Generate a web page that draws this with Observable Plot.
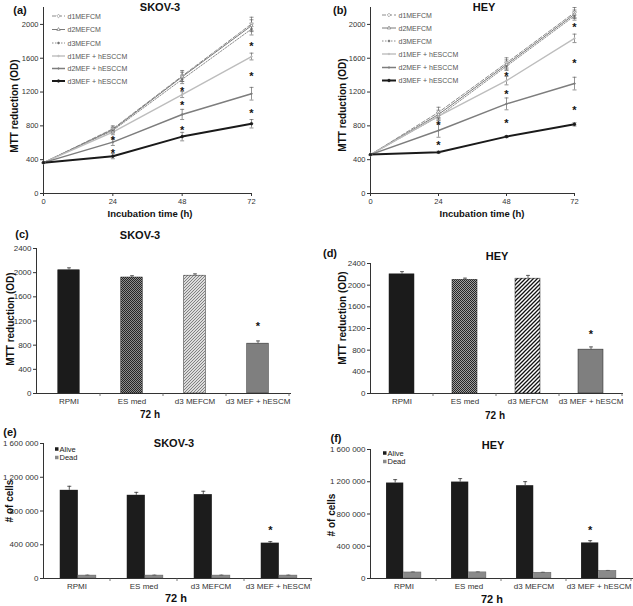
<!DOCTYPE html>
<html><head><meta charset="utf-8">
<script src="https://cdn.jsdelivr.net/npm/d3@7"></script>
<script src="https://cdn.jsdelivr.net/npm/@observablehq/plot@0.6"></script>
<style>
body{margin:0;background:#fff;}
#wrap{position:relative;width:633px;height:606px;overflow:hidden;background:#fff;}
.panel{position:absolute;}
.panel svg{display:block;overflow:visible;}
</style></head><body><div id="wrap"></div>
<script>
// ---------------- DATA ----------------
const times = [0, 24, 48, 72];
const seriesNames = ["d1MEFCM", "d2MEFCM", "d3MEFCM", "d1MEF + hESCCM", "d2MEF + hESCCM", "d3MEF + hESCCM"];
const lineYTicks = [0, 400, 800, 1200, 1600, 2000];

const skovMTT = [
  [365, 765, 1390, 2005],
  [365, 755, 1380, 1985],
  [365, 745, 1350, 1945],
  [365, 725, 1170, 1620],
  [365, 608, 935, 1180],
  [365, 441, 673, 825]
];
const skovErr = [
  [10, 35, 65, 80],
  [10, 30, 55, 70],
  [10, 30, 50, 70],
  [10, 30, 35, 40],
  [10, 40, 60, 75],
  [10, 30, 50, 50]
];
const skovStarT = [24, 24, 48, 48, 48, 72, 72, 72];
const skovStarV = [665, 508, 1248, 1075, 783, 1780, 1414, 988];

const heyMTT = [
  [460, 960, 1545, 2140],
  [460, 935, 1525, 2120],
  [460, 910, 1505, 2100],
  [460, 915, 1335, 1835],
  [460, 745, 1060, 1300],
  [460, 488, 673, 818]
];
const heyErr = [
  [10, 60, 60, 60],
  [10, 50, 55, 50],
  [10, 50, 50, 50],
  [10, 45, 50, 50],
  [10, 80, 70, 75],
  [10, 12, 12, 20]
];
const heyStarT = [24, 24, 48, 48, 48, 72, 72, 72];
const heyStarV = [842, 606, 1425, 1208, 858, 1996, 1571, 1019];

const conditions = ["RPMI", "ES med", "d3 MEFCM", "d3 MEF + hESCM"];
const mttYTicks = [0, 400, 800, 1200, 1600, 2000, 2400];
const skovMTT72 = [2040, 1920, 1950, 825];
const skovMTT72Err = [40, 30, 30, 45];
const skovMTT72Star = [null, null, null, 1160];
const heyMTT72 = [2200, 2100, 2120, 810];
const heyMTT72Err = [50, 30, 60, 50];
const heyMTT72Star = [null, null, null, 1150];

const cellStatus = ["Alive", "Dead"];
const cellYTicks = [0, 400000, 800000, 1200000, 1600000];
const skovAlive = [1045000, 986000, 994000, 419000];
const skovAliveErr = [48000, 35000, 40000, 18000];
const skovDead = [35000, 35000, 35000, 35000];
const skovDeadErr = [5000, 5000, 5000, 5000];
const skovCellStar = [null, null, null, 610000];
const heyAlive = [1184000, 1196000, 1151000, 441000];
const heyAliveErr = [42000, 43000, 50000, 28000];
const heyDead = [75000, 76000, 72000, 95000];
const heyDeadErr = [6000, 6000, 5000, 5000];
const heyCellStar = [null, null, null, 635000];

// ---------------- STYLES ----------------
const FONT = '"Liberation Sans", Arial, Helvetica, sans-serif';
const lineStyles = [
  {stroke: "#8c8c8c", width: 1, dash: "4,2", symbol: "diamond2", fill: "white", r: 1.6},
  {stroke: "#7a7a7a", width: 1, dash: null, symbol: "triangle2", fill: "white", r: 1.6},
  {stroke: "#8c8c8c", width: 1, dash: "1.5,1.5", symbol: "circle", fill: "#555", r: 1},
  {stroke: "#bdbdbd", width: 1.4, dash: null, symbol: "circle", fill: "#bdbdbd", r: 0.8},
  {stroke: "#7d7d7d", width: 1.5, dash: null, symbol: "circle", fill: "#7d7d7d", r: 0.8},
  {stroke: "#1a1a1a", width: 2, dash: null, symbol: "circle", fill: "#1a1a1a", r: 1.3}
];
const d3Symbols = {diamond2: d3.symbolDiamond2, triangle2: d3.symbolTriangle2, circle: d3.symbolCircle};
const capSymbol = {draw(ctx, size) { const w = Math.sqrt(size / Math.PI); ctx.moveTo(-w, 0); ctx.lineTo(w, 0); }};
const plainFmt = d3.format("d");

const wrap = document.getElementById("wrap");
function place(node, left, top) {
  const div = document.createElement("div");
  div.className = "panel";
  div.style.left = left + "px";
  div.style.top = top + "px";
  div.appendChild(node);
  wrap.appendChild(div);
}
function addText(svg, x, y, txt, o = {}) {
  d3.select(svg).append("text")
    .attr("x", x).attr("y", y)
    .attr("text-anchor", o.anchor || "middle")
    .attr("dominant-baseline", "central")
    .attr("font-size", o.size || 10)
    .attr("font-weight", o.weight || "bold")
    .attr("fill", o.fill || "#111")
    .attr("font-family", FONT)
    .attr("transform", o.rotate ? `rotate(-90 ${x} ${y})` : null)
    .text(txt);
}

// ---------------- LINE PANELS ----------------
function linePanel(c) {
  const data = [];
  c.vals.forEach((arr, si) => arr.forEach((v, ti) => data.push({s: si, t: times[ti], v, e: c.errs[si][ti]})));
  const errData = data.filter(d => d.t > 0);
  const stars = c.starT.map((t, i) => ({t, v: c.starV[i]}));
  const marks = [];
  lineStyles.forEach((st, si) => {
    const o = {x: "t", y: "v", stroke: st.stroke, strokeWidth: st.width};
    if (st.dash) o.strokeDasharray = st.dash;
    marks.push(Plot.line(data.filter(d => d.s === si), o));
  });
  marks.push(Plot.ruleX(errData, {x: "t", y1: d => d.v - d.e, y2: d => d.v + d.e, stroke: "#666", strokeWidth: 0.7}));
  marks.push(Plot.dot(errData, {x: "t", y: d => d.v + d.e, symbol: capSymbol, r: 2, stroke: "#666", strokeWidth: 0.7}));
  marks.push(Plot.dot(errData, {x: "t", y: d => d.v - d.e, symbol: capSymbol, r: 2, stroke: "#666", strokeWidth: 0.7}));
  lineStyles.forEach((st, si) => {
    marks.push(Plot.dot(data.filter(d => d.s === si), {x: "t", y: "v", symbol: st.symbol, r: st.r, stroke: st.stroke, fill: st.fill, strokeWidth: 0.7}));
  });
  marks.push(Plot.text(stars, {x: "t", y: "v", text: () => "*", fontSize: 11, fontWeight: "bold", fill: "#111", dy: 3}));
  const svg = Plot.plot({
    width: c.w, height: c.h,
    marginLeft: c.ml, marginRight: c.mr, marginTop: c.mt, marginBottom: c.mb,
    x: {domain: [0, 72], ticks: times, tickSize: 3, tickPadding: 2, line: true, label: null},
    y: {domain: [0, 2200], ticks: lineYTicks, tickFormat: plainFmt, tickSize: 3, tickPadding: 2, line: true, label: null},
    style: {fontFamily: FONT, fontSize: "7.5px", color: "#333", background: "transparent", overflow: "visible"},
    marks
  });
  addText(svg, c.letterX, c.letterY, c.letter, {size: 11});
  addText(svg, c.titleX, c.titleY, c.title, {size: 11});
  addText(svg, c.ylabX, c.ylabY, "MTT reduction (OD)", {size: 10, rotate: true});
  addText(svg, c.xlabX, c.xlabY, "Incubation time (h)", {size: 9.5});
  const g = d3.select(svg).append("g");
  lineStyles.forEach((st, si) => {
    const y = c.legRows[si];
    g.append("line").attr("x1", c.legX0).attr("x2", c.legX1).attr("y1", y).attr("y2", y)
      .attr("stroke", st.stroke).attr("stroke-width", st.width).attr("stroke-dasharray", st.dash);
    g.append("path").attr("d", d3.symbol(d3Symbols[st.symbol], Math.PI * st.r * st.r)())
      .attr("transform", `translate(${(c.legX0 + c.legX1) / 2},${y})`)
      .attr("stroke", st.stroke).attr("fill", st.fill).attr("stroke-width", 0.7);
    addText(svg, c.legX1 + 2.5, y, seriesNames[si], {size: 7, weight: "normal", anchor: "start", fill: "#555"});
  });
  place(svg, c.left, c.top);
}

linePanel({left: 0, top: 0, w: 316, h: 222, ml: 43, mr: 65, mt: 7, mb: 29,
  vals: skovMTT, errs: skovErr, starT: skovStarT, starV: skovStarV,
  letter: "(a)", letterX: 20, letterY: 10, title: "SKOV-3", titleX: 160, titleY: 7,
  ylabX: 14, ylabY: 106, xlabX: 150, xlabY: 213, legX0: 52, legX1: 65, legRows: [16, 29.5, 43, 56, 68.5, 81]});
linePanel({left: 320, top: 0, w: 313, h: 222, ml: 50, mr: 59, mt: 7, mb: 29,
  vals: heyMTT, errs: heyErr, starT: heyStarT, starV: heyStarV,
  letter: "(b)", letterX: 20, letterY: 10, title: "HEY", titleX: 164, titleY: 7,
  ylabX: 22, ylabY: 105, xlabX: 162, xlabY: 213, legX0: 62, legX1: 76, legRows: [15, 28, 41, 54, 67.5, 80.5]});

// ---------------- PATTERNS ----------------
function addPatterns(svg, prefix, dark) {
  const defs = d3.select(svg).insert("defs", ":first-child");
  const p1 = defs.append("pattern").attr("id", prefix + "-es").attr("patternUnits", "userSpaceOnUse").attr("width", 2).attr("height", 2);
  p1.append("rect").attr("width", 2).attr("height", 2).attr("fill", dark ? "#a0a0a0" : "#8e8e8e");
  p1.append("rect").attr("width", 1).attr("height", 1).attr("fill", "#252525");
  p1.append("rect").attr("x", 1).attr("y", 1).attr("width", 1).attr("height", 1).attr("fill", "#252525");
  if (dark) {
    const p2 = defs.append("pattern").attr("id", prefix + "-d3").attr("patternUnits", "userSpaceOnUse").attr("width", 4).attr("height", 4);
    p2.append("rect").attr("width", 4).attr("height", 4).attr("fill", "#fff");
    p2.append("path").attr("d", "M-1,1 l2,-2 M0,4 l4,-4 M3,5 l2,-2").attr("stroke", "#111").attr("stroke-width", 1.3);
  } else {
    const p2 = defs.append("pattern").attr("id", prefix + "-d3").attr("patternUnits", "userSpaceOnUse").attr("width", 3).attr("height", 3);
    p2.append("rect").attr("width", 3).attr("height", 3).attr("fill", "#dcdcdc");
    p2.append("path").attr("d", "M-1,1 l2,-2 M0,3 l3,-3 M2,4 l2,-2").attr("stroke", "#777").attr("stroke-width", 0.9);
  }
}
function boundaryTicks(svg, cats, y0) {
  const xs = svg.scale("x");
  const step = xs.apply(cats[1]) - xs.apply(cats[0]);
  const g = d3.select(svg).append("g");
  const xsPos = cats.map(c => xs.apply(c)).slice(1);
  xsPos.push(xs.apply(cats[cats.length - 1]) + step);
  xsPos.forEach(x => g.append("line").attr("x1", x).attr("x2", x).attr("y1", y0).attr("y2", y0 + 3).attr("stroke", "#555").attr("stroke-width", 0.8));
}

// ---------------- MTT 72 h BAR PANELS ----------------
function mttBarPanel(c) {
  const data = conditions.map((cat, i) => ({cat, v: c.vals[i], e: c.errs[i], star: c.stars[i], i}));
  const fills = ["#1b1b1b", `url(#${c.prefix}-es)`, `url(#${c.prefix}-d3)`, "#7f7f7f"];
  const step = (c.w - c.ml - c.mr) / conditions.length;
  const inset = (step - c.barW) / 2;
  const svg = Plot.plot({
    width: c.w, height: c.h,
    marginLeft: c.ml, marginRight: c.mr, marginTop: c.mt, marginBottom: c.mb,
    x: {domain: conditions, padding: 0, tickSize: 0, tickPadding: 5, line: true, label: null},
    y: {domain: [0, 2400], ticks: mttYTicks, tickFormat: plainFmt, tickSize: 3, tickPadding: 2, line: true, label: null},
    color: {type: "identity"},
    style: {fontFamily: FONT, fontSize: "8px", color: "#333", background: "transparent", overflow: "visible"},
    marks: [
      Plot.barY(data, {x: "cat", y: "v", fill: d => fills[d.i], stroke: "#222", strokeWidth: 0.5, insetLeft: inset, insetRight: inset}),
      Plot.ruleX(data, {x: "cat", y1: "v", y2: d => d.v + d.e, stroke: "#444", strokeWidth: 0.8}),
      Plot.dot(data, {x: "cat", y: d => d.v + d.e, symbol: capSymbol, r: 2, stroke: "#444", strokeWidth: 0.8}),
      Plot.text(data.filter(d => d.star != null), {x: "cat", y: "star", text: () => "*", fontSize: 11, fontWeight: "bold", fill: "#111", dy: 3})
    ]
  });
  addPatterns(svg, c.prefix, c.dark);
  boundaryTicks(svg, conditions, c.h - c.mb);
  addText(svg, c.letterX, c.letterY, c.letter, {size: 11});
  addText(svg, c.titleX, c.titleY, c.title, {size: 11});
  addText(svg, c.ylabX, c.ylabY, "MTT reduction (OD)", {size: 10, rotate: true});
  addText(svg, c.xlabX, c.xlabY, "72 h", {size: 10});
  place(svg, c.left, c.top);
}

mttBarPanel({left: 0, top: 220, w: 316, h: 200, ml: 36, mr: 26, mt: 28, mb: 27, barW: 22,
  vals: skovMTT72, errs: skovMTT72Err, stars: skovMTT72Star, prefix: "pc", dark: false,
  letter: "(c)", letterX: 22, letterY: 14, title: "SKOV-3", titleX: 140, titleY: 15,
  ylabX: 10, ylabY: 99, xlabX: 150, xlabY: 194});
mttBarPanel({left: 320, top: 220, w: 313, h: 200, ml: 50, mr: 11, mt: 43, mb: 27, barW: 25,
  vals: heyMTT72, errs: heyMTT72Err, stars: heyMTT72Star, prefix: "pd", dark: true,
  letter: "(d)", letterX: 10, letterY: 33, title: "HEY", titleX: 177, titleY: 36,
  ylabX: 22, ylabY: 98, xlabX: 175, xlabY: 195});

// ---------------- CELL COUNT PANELS ----------------
const statusFill = {Alive: "#1c1c1c", Dead: "#8a8a8a"};
function cellPanel(c) {
  const step = (c.w - c.ml - c.mr) / conditions.length;
  const [a0, a1, a2] = c.frac.map(f => f * step);
  const alive = conditions.map((cat, i) => ({cat, v: c.alive[i], e: c.aliveErr[i], star: c.stars[i]}));
  const dead = conditions.map((cat, i) => ({cat, v: c.dead[i], e: c.deadErr[i]}));
  const aliveDx = (a0 + a1) / 2 - step / 2;
  const deadDx = (a1 + a2) / 2 - step / 2;
  const fmt = d => d3.format(",")(d).replace(/,/g, " ");
  const svg = Plot.plot({
    width: c.w, height: c.h,
    marginLeft: c.ml, marginRight: c.mr, marginTop: c.mt, marginBottom: c.mb,
    x: {domain: conditions, padding: 0, tickSize: 0, tickPadding: 5, line: true, label: null},
    y: {domain: [0, 1600000], ticks: cellYTicks, tickFormat: fmt, tickSize: 3, tickPadding: 2, line: true, label: null},
    style: {fontFamily: FONT, fontSize: "8px", color: "#333", background: "transparent", overflow: "visible"},
    marks: [
      Plot.barY(alive, {x: "cat", y: "v", fill: statusFill.Alive, insetLeft: a0, insetRight: step - a1}),
      Plot.barY(dead, {x: "cat", y: "v", fill: statusFill.Dead, stroke: "#555", strokeWidth: 0.4, insetLeft: a1, insetRight: step - a2}),
      Plot.ruleX(alive, {x: "cat", y1: "v", y2: d => d.v + d.e, dx: aliveDx, stroke: "#333", strokeWidth: 0.8}),
      Plot.dot(alive, {x: "cat", y: d => d.v + d.e, dx: aliveDx, symbol: capSymbol, r: 2, stroke: "#333", strokeWidth: 0.8}),
      Plot.ruleX(dead, {x: "cat", y1: "v", y2: d => d.v + d.e, dx: deadDx, stroke: "#555", strokeWidth: 0.8}),
      Plot.dot(dead, {x: "cat", y: d => d.v + d.e, dx: deadDx, symbol: capSymbol, r: 2, stroke: "#555", strokeWidth: 0.8}),
      Plot.text(alive.filter(d => d.star != null), {x: "cat", y: "star", dx: aliveDx, text: () => "*", fontSize: 11, fontWeight: "bold", fill: "#111", dy: 3})
    ]
  });
  boundaryTicks(svg, conditions, c.h - c.mb);
  addText(svg, c.letterX, c.letterY, c.letter, {size: 11});
  addText(svg, c.titleX, c.titleY, c.title, {size: 11});
  addText(svg, c.ylabX, c.ylabY, "# of cells", {size: 10, rotate: true});
  addText(svg, c.xlabX, c.xlabY, "72 h", {size: 11});
  const g = d3.select(svg).append("g");
  cellStatus.forEach((s, i) => {
    const y = c.legRows[i];
    g.append("rect").attr("x", c.legX).attr("y", y - 1.75).attr("width", 3.5).attr("height", 3.5).attr("fill", statusFill[s]);
    addText(svg, c.legX + 4.5, y, s, {size: 7.5, weight: "normal", anchor: "start", fill: "#222"});
  });
  place(svg, c.left, c.top);
}

cellPanel({left: 0, top: 420, w: 316, h: 186, ml: 43, mr: 5, mt: 23, mb: 28, frac: [0.25, 0.52, 0.79],
  alive: skovAlive, aliveErr: skovAliveErr, dead: skovDead, deadErr: skovDeadErr, stars: skovCellStar,
  letter: "(e)", letterX: 10, letterY: 12, title: "SKOV-3", titleX: 174, titleY: 23,
  ylabX: 9, ylabY: 81, xlabX: 176, xlabY: 178, legX: 55, legRows: [29, 37.5]});
cellPanel({left: 320, top: 420, w: 313, h: 186, ml: 50, mr: 1, mt: 29, mb: 28, frac: [0.23, 0.5, 0.77],
  alive: heyAlive, aliveErr: heyAliveErr, dead: heyDead, deadErr: heyDeadErr, stars: heyCellStar,
  letter: "(f)", letterX: 16, letterY: 18, title: "HEY", titleX: 173, titleY: 25,
  ylabX: 11, ylabY: 95, xlabX: 172, xlabY: 179, legX: 63, legRows: [33, 41.5]});
</script>
</body></html>
